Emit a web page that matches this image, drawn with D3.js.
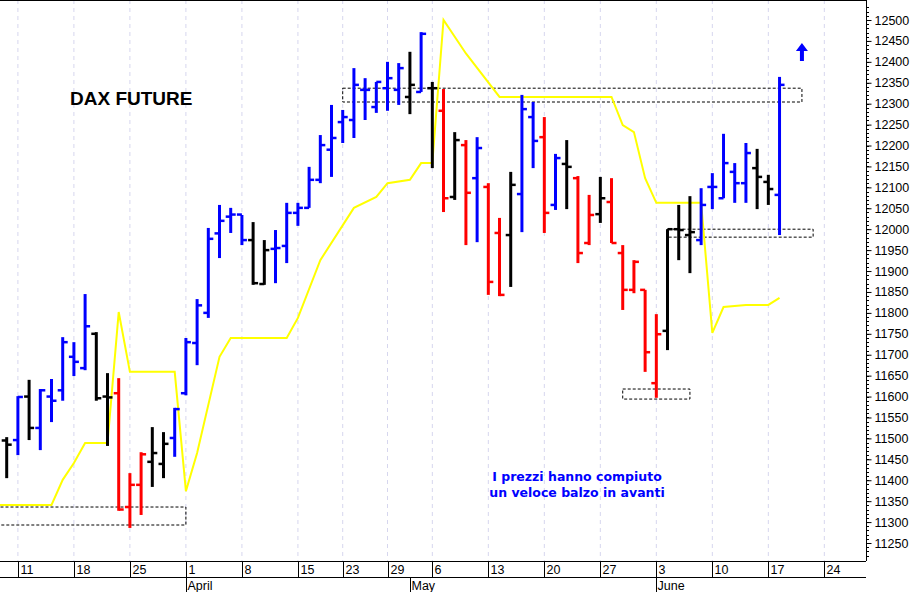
<!DOCTYPE html>
<html><head><meta charset="utf-8">
<script src="https://cdn.jsdelivr.net/npm/d3@7"></script>
<style>body{margin:0;background:#fff}svg{display:block}</style>
</head><body><svg id="c" width="915" height="592"></svg>
<script>
// trading days (categories)
const tradingDays = ["Mar 7","Mar 8","Mar 11","Mar 12","Mar 13","Mar 14","Mar 15","Mar 18","Mar 19","Mar 20","Mar 21","Mar 22","Mar 25","Mar 26","Mar 27","Mar 28","Mar 29","Apr 1","Apr 2","Apr 3","Apr 4","Apr 5","Apr 8","Apr 9","Apr 10","Apr 11","Apr 12","Apr 15","Apr 16","Apr 17","Apr 18","Apr 23","Apr 24","Apr 25","Apr 26","Apr 29","Apr 30","May 2","May 3","May 6","May 7","May 8","May 9","May 10","May 13","May 14","May 15","May 16","May 17","May 20","May 21","May 22","May 23","May 24","May 27","May 28","May 29","May 30","May 31","Jun 3","Jun 4","Jun 5","Jun 6","Jun 7","Jun 10","Jun 11","Jun 12","Jun 13","Jun 14","Jun 17","Jun 18","Jun 19","Jun 20","Jun 21","Jun 24","Jun 25","Jun 26","Jun 27","Jun 28"];
const weekLabels = ["Mar 11","Mar 18","Mar 25","Apr 1","Apr 8","Apr 15","Apr 23","Apr 29","May 6","May 13","May 20","May 27","Jun 3","Jun 10","Jun 17","Jun 24"];
const monthLabels = [["Apr 1","April"],["May 2","May"],["Jun 3","June"]];
const yTicks = [11250,11300,11350,11400,11450,11500,11550,11600,11650,11700,11750,11800,11850,11900,11950,12000,12050,12100,12150,12200,12250,12300,12350,12400,12450,12500];

// OHLC bars
const barDates = ["Mar 8","Mar 11","Mar 12","Mar 13","Mar 14","Mar 15","Mar 18","Mar 19","Mar 20","Mar 21","Mar 22","Mar 25","Mar 26","Mar 27","Mar 28","Mar 29","Apr 1","Apr 2","Apr 3","Apr 4","Apr 5","Apr 8","Apr 9","Apr 10","Apr 11","Apr 12","Apr 15","Apr 16","Apr 17","Apr 18","Apr 23","Apr 24","Apr 25","Apr 26","Apr 29","Apr 30","May 2","May 3","May 6","May 7","May 8","May 9","May 10","May 13","May 14","May 15","May 16","May 17","May 20","May 21","May 22","May 23","May 24","May 27","May 28","May 29","May 30","May 31","Jun 3","Jun 4","Jun 5","Jun 6","Jun 7","Jun 10","Jun 11","Jun 12","Jun 13","Jun 14","Jun 17","Jun 18"];
const opens  = [11495,11496,11600,11525,11600,11615,11695,11668,11750,11600,11608,11336,11389,11444,11439,11501,11608,11728,11800,11990,12030,12035,11974,11869,11953,11960,12039,12051,12118,12190,12256,12261,12333,12292,12337,12333,12316,12328,12337,12283,12077,12201,12122,12101,11991,11986,12084,12268,12220,12058,12156,12122,11967,12036,12065,11943,11855,11855,11632,11757,12000,11986,11974,12101,12074,12137,12110,12146,12113,12082];
const highs  = [11503,11601,11640,11618,11642,11742,11730,11845,11754,11656,11644,11417,11467,11527,11515,11573,11740,11833,12003,12058,12051,12034,12017,11974,11998,12063,12063,12149,12225,12297,12285,12385,12361,12352,12400,12397,12424,12471,12352,12335,12232,12213,12220,12110,12027,12137,12321,12304,12268,12180,12213,12127,12082,12125,12122,11962,11926,11855,11797,12000,12058,12079,12098,12134,12228,12158,12206,12192,12130,12364];
const lows   = [11405,11460,11496,11472,11539,11590,11649,11663,11590,11482,11327,11286,11317,11384,11405,11456,11603,11675,11788,11931,11991,11962,11867,11867,11871,11919,12008,12051,12110,12125,12206,12218,12261,12278,12283,12297,12275,12328,12146,12041,12070,11962,11969,11843,11840,11862,11993,12146,11991,12046,12048,11919,11962,12015,11967,11807,11847,11659,11597,11711,11926,11895,11962,12048,12074,12063,12063,12048,12058,11986];
const closes = [11485,11599,11525,11615,11590,11730,11683,11768,11596,11598,11330,11389,11462,11465,11487,11570,11730,11818,11977,12020,12035,11974,11871,11950,11955,12039,12051,12118,12201,12218,12268,12345,12333,12352,12361,12385,12345,12467,12337,12074,12213,12087,12194,11874,11843,12106,12287,12211,12039,12170,12149,11943,12034,12074,11967,11855,11922,11706,11749,12000,11998,11993,12058,12101,12158,12110,12182,12125,12096,12345];
const barColors = ["k","b","k","b","b","b","b","b","k","k","r","r","r","k","k","b","b","b","b","b","b","b","k","k","b","b","b","b","b","b","b","b","b","b","b","b","k","b","k","r","k","r","b","r","r","k","b","b","r","b","k","r","r","k","r","r","r","r","r","k","k","k","b","b","b","b","b","k","k","b"];

// yellow line
const lineDates  = ["Mar 7","Mar 14","Mar 15","Mar 18","Mar 19","Mar 21","Mar 22","Mar 25","Mar 29","Apr 1","Apr 2","Apr 4","Apr 5","Apr 12","Apr 15","Apr 17","Apr 24","Apr 26","Apr 29","May 2","May 3","May 6","May 7","May 9","May 14","May 28","May 29","May 30","May 31","Jun 3","Jun 7","Jun 10","Jun 11","Jun 13","Jun 17","Jun 18"];
const lineValues = [11341,11341,11401,11441,11489,11489,11802,11659,11659,11374,11465,11695,11740,11740,11788,11926,12051,12077,12110,12118,12158,12158,12500,12420,12316,12316,12249,12232,12122,12063,12063,11752,11814,11819,11819,11836];

// annotation boxes
const boxFrom = ["Mar 7","Apr 23","Jun 4","May 29"];
const boxTo   = ["Apr 1","Jun 20","Jun 21","Jun 6"];
const boxLo   = [11293,12304,11981,11594];
const boxHi   = [11336,12337,12000,11618];

const colorMap = {b:"#0000ff", r:"#ff0000", k:"#000000"};
const svg = d3.select("#c");
const idx = d => tradingDays.indexOf(d);
const plotR = 866, plotB = 561;
const x = d3.scaleLinear().domain([0.402, 77.72]).range([0, plotR]);
const y = d3.scaleLinear().domain([11250, 12500]).range([543, 20]);

// clip
svg.append("defs").append("clipPath").attr("id","cp").append("rect").attr("x",0).attr("y",0).attr("width",plotR).attr("height",plotB);
const g = svg.append("g").attr("clip-path","url(#cp)");

// grid
g.selectAll(".grid").data(weekLabels).join("line")
  .attr("x1",d=>x(idx(d))).attr("x2",d=>x(idx(d))).attr("y1",0).attr("y2",plotB)
  .attr("stroke","#d6d6ee").attr("stroke-dasharray","4,4").attr("stroke-width",1);

// boxes
g.selectAll(".box").data(boxFrom).join("rect")
  .attr("x",(d,i)=>x(idx(d))-(i===0?10:0)).attr("y",(d,i)=>y(boxHi[i]))
  .attr("width",(d,i)=>x(idx(boxTo[i]))-x(idx(d))+(i===0?10:0))
  .attr("height",(d,i)=>y(boxLo[i])-y(boxHi[i]))
  .attr("fill","none").attr("stroke","#000").attr("stroke-dasharray","3,2").attr("stroke-width",1);

// yellow line
g.append("path").datum(lineDates.map((d,i)=>[idx(d),lineValues[i]]))
  .attr("d",d3.line().x(d=>x(d[0])).y(d=>y(d[1])))
  .attr("fill","none").attr("stroke","#ffff00").attr("stroke-width",2);

// bars
const bars = g.selectAll(".bar").data(barDates).join("g");
bars.append("line").attr("x1",d=>x(idx(d))).attr("x2",d=>x(idx(d)))
  .attr("y1",(d,i)=>y(highs[i])).attr("y2",(d,i)=>y(lows[i]))
  .attr("stroke",(d,i)=>colorMap[barColors[i]]).attr("stroke-width",3);
bars.append("line").attr("x1",d=>x(idx(d))-5).attr("x2",d=>x(idx(d)))
  .attr("y1",(d,i)=>y(opens[i])).attr("y2",(d,i)=>y(opens[i]))
  .attr("stroke",(d,i)=>colorMap[barColors[i]]).attr("stroke-width",2.5);
bars.append("line").attr("x1",d=>x(idx(d))).attr("x2",d=>x(idx(d))+5)
  .attr("y1",(d,i)=>y(closes[i])).attr("y2",(d,i)=>y(closes[i]))
  .attr("stroke",(d,i)=>colorMap[barColors[i]]).attr("stroke-width",2.5);

// arrow
const ax = x(idx("Jun 20")), aTop = y(12445), aBot = y(12402);
g.append("path").attr("d",`M${ax},${aTop} L${ax-6},${aTop+8} L${ax-2},${aTop+8} L${ax-2},${aBot} L${ax+2},${aBot} L${ax+2},${aTop+8} L${ax+6},${aTop+8} Z`).attr("fill","#0000ff");

// frame
svg.append("line").attr("x1",0).attr("x2",plotR).attr("y1",0.5).attr("y2",0.5).attr("stroke","#000");
svg.append("line").attr("x1",plotR+0.5).attr("x2",plotR+0.5).attr("y1",0).attr("y2",plotB).attr("stroke","#000");

// right axis
const yAxis = d3.axisRight(y).tickValues(yTicks).tickSize(5).tickPadding(3).tickFormat(d3.format("d"));
const ya = svg.append("g").attr("transform",`translate(${plotR+0.5},0)`).call(yAxis);
ya.select(".domain").remove();
ya.selectAll("text").attr("font-family","Liberation Sans, Arial").attr("font-size",12.5).attr("fill","#000");
const minor = d3.range(11220, 12531, 10);
svg.append("g").selectAll("line").data(minor).join("line")
  .attr("x1",plotR).attr("x2",plotR+3).attr("y1",d=>Math.round(y(d))+0.5).attr("y2",d=>Math.round(y(d))+0.5).attr("stroke","#000");

// bottom axis
svg.append("line").attr("x1",0).attr("x2",plotR).attr("y1",plotB+0.5).attr("y2",plotB+0.5).attr("stroke","#000");
svg.append("line").attr("x1",0).attr("x2",plotR).attr("y1",577.5).attr("y2",577.5).attr("stroke","#000");
const wk = svg.append("g").selectAll("g").data(weekLabels).join("g").attr("transform",d=>`translate(${Math.round(x(idx(d)))+0.5},0)`);
wk.append("line").attr("y1",plotB).attr("y2",577).attr("stroke","#000");
wk.append("text").attr("x",2).attr("y",574).text(d=>d.split(" ")[1])
  .attr("font-family","Liberation Sans, Arial").attr("font-size",12.5);
const mo = svg.append("g").selectAll("g").data(monthLabels).join("g").attr("transform",d=>`translate(${Math.round(x(idx(d[0])))+0.5},0)`);
mo.append("line").attr("y1",577).attr("y2",592).attr("stroke","#000");
mo.append("text").attr("x",1).attr("y",590).text(d=>d[1]).attr("font-family","Liberation Sans, Arial").attr("font-size",12.5);

// texts
svg.append("text").attr("x",70).attr("y",105).text("DAX FUTURE").attr("font-family","Liberation Sans, Arial").attr("font-weight","bold").attr("font-size",19);
svg.append("text").attr("x",577).attr("y",481).attr("text-anchor","middle").text("I prezzi hanno compiuto").attr("font-family","DejaVu Sans, Verdana").attr("font-weight","bold").attr("font-size",12.5).attr("fill","#0000ff");
svg.append("text").attr("x",577).attr("y",497).attr("text-anchor","middle").text("un veloce balzo in avanti").attr("font-family","DejaVu Sans, Verdana").attr("font-weight","bold").attr("font-size",12.5).attr("fill","#0000ff");
</script></body></html>
